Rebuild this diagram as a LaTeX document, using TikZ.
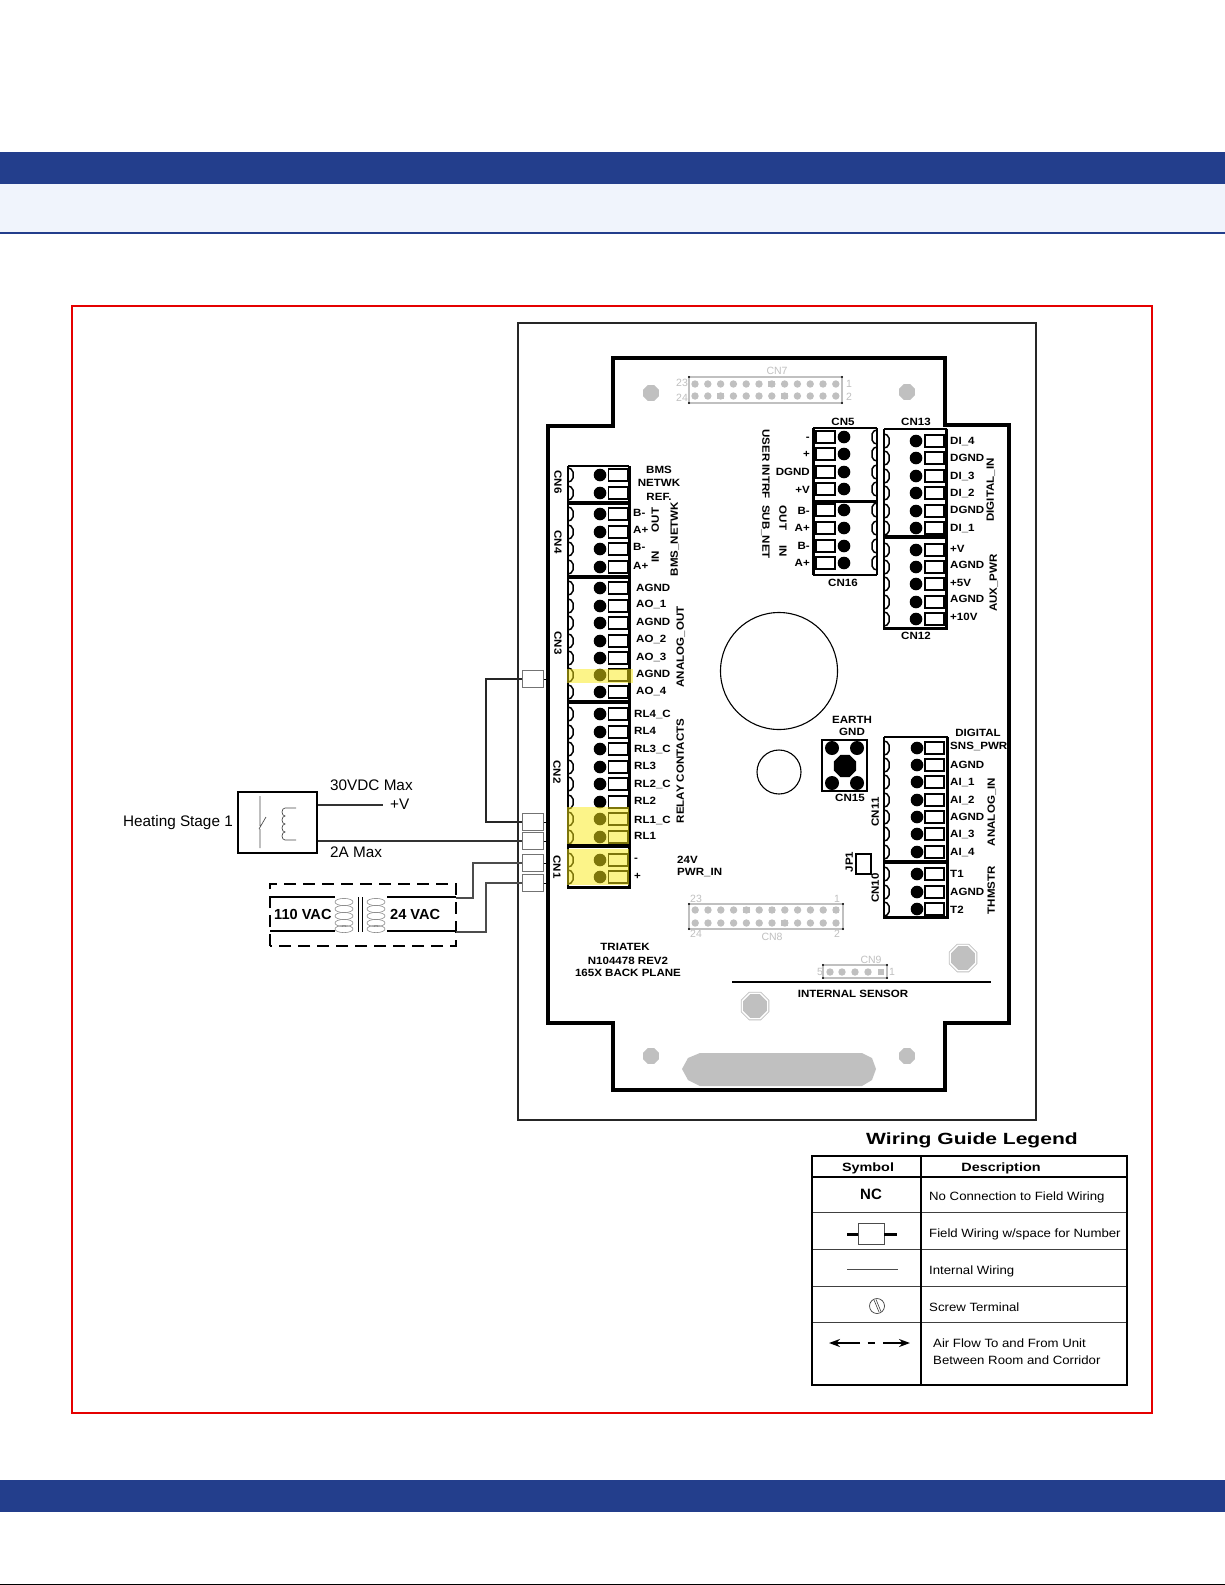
\documentclass[tikz,border=0pt]{standalone}
\usepackage{fontspec}
\usetikzlibrary{arrows.meta}
\setmainfont{Liberation Sans}
\newfontfamily\bdx[FakeStretch=1.1]{Liberation Sans}
\newfontfamily\ttlx[FakeStretch=1.3]{Liberation Sans}
\newfontfamily\lgx[FakeStretch=1.1]{Liberation Sans}
\newfontfamily\hdx[FakeStretch=1.2]{Liberation Sans}
\definecolor{bandblue}{HTML}{233E8C}
\definecolor{bandpale}{HTML}{F0F4FC}
\definecolor{pcbgray}{HTML}{C0C0C0}
\definecolor{hiyel}{RGB}{250,235,20}
\newcommand\lbf{\fontsize{10.5}{12}\selectfont\bdx\bfseries}
\newcommand\scalL[2]{\draw[scl] (#1,#2-7)--(#1+3,#2-6)--(#1+5,#2-3)--(#1+5,#2+3)--(#1+3,#2+6)--(#1,#2+7);}
\newcommand\scalR[2]{\draw[scl] (#1,#2-7)--(#1-3,#2-6)--(#1-5,#2-3)--(#1-5,#2+3)--(#1-3,#2+6)--(#1,#2+7);}
\newcommand\termsq[2]{\draw[sqr] (#1,#2-6) rectangle (#1+19,#2+6);}
\newcommand\octa[4]{\path[#4] ({#1+#3*cos(22.5)},{#2+#3*sin(22.5)})--({#1+#3*cos(67.5)},{#2+#3*sin(67.5)})--({#1+#3*cos(112.5)},{#2+#3*sin(112.5)})--({#1+#3*cos(157.5)},{#2+#3*sin(157.5)})--({#1+#3*cos(202.5)},{#2+#3*sin(202.5)})--({#1+#3*cos(247.5)},{#2+#3*sin(247.5)})--({#1+#3*cos(292.5)},{#2+#3*sin(292.5)})--({#1+#3*cos(337.5)},{#2+#3*sin(337.5)})--cycle;}
\newcommand\mountscrew[2]{\octa{#1}{#2}{15}{draw=pcbgray,line width=.8pt,fill=white}\octa{#1}{#2}{12.8}{fill=pcbgray}}
\begin{document}
\begin{tikzpicture}[x=1pt,y=-1pt,
  scl/.style={line width=1.5pt,black,line join=round},
  sqr/.style={draw=black,line width=1.9pt,fill=white},
  lbl/.style={font=\lbf,inner sep=0pt,anchor=west,text height=7.5pt,text depth=0pt},
  lblr/.style={font=\lbf,inner sep=0pt,anchor=east,text height=7.5pt,text depth=0pt},
  lblc/.style={font=\lbf,inner sep=0pt,anchor=center,text height=7.5pt,text depth=0pt},
  lblv/.style={lblc,rotate=90},
  lblw/.style={lblc,rotate=-90},
  gtxt/.style={font=\fontsize{10.5}{12}\selectfont,text=pcbgray,inner sep=0pt},
  wtxt/.style={font=\fontsize{15.3}{17}\selectfont,inner sep=0pt},
  lgtxt/.style={font=\fontsize{12}{14}\selectfont\lgx,inner sep=0pt,anchor=west},
  fwire/.style={draw=black!55,line width=.7pt,fill=white,minimum width=21pt,minimum height=17pt,inner sep=0pt},
  wire/.style={black!85,line width=1.1pt},
  wireg/.style={black!70,line width=1.2pt},
  board/.style={black,line width=3.6pt,line join=miter},
  blk/.style={black,line width=1.6pt},
  div/.style={black,line width=3.6pt},
  hl/.style={fill=hiyel,fill opacity=.5,draw=none},
  pad/.style={fill=pcbgray,draw=none},
  frm/.style={draw=pcbgray,line width=1.2pt},
  lgl/.style={black,line width=.8pt,draw opacity=.75},
]
\useasboundingbox (0,0) rectangle (1225,1585);
\fill[white] (0,0) rectangle (1225,1585);
% page bands
\fill[bandblue] (0,152) rectangle (1225,184);
\fill[bandpale] (0,184) rectangle (1225,232);
\fill[bandblue] (0,232) rectangle (1225,234);
\fill[bandblue] (0,1480) rectangle (1225,1512);
\draw[black,line width=1pt] (0,1584) -- (1225,1584);
\draw[red!90!black,line width=1.6pt] (72,306) rectangle (1152,1413);
% outer enclosure and board outline
\draw[black!85,line width=2.6pt] (518,323) rectangle (1036,1120);
\draw[board] (548,426) -- (613,426) -- (613,358) -- (945,358) -- (945,425) -- (1009,425) -- (1009,1023) -- (945,1023) -- (945,1090) -- (613,1090) -- (613,1023) -- (548,1023) -- cycle;
% mechanical features
\draw[black,line width=1.1pt] (779,671) circle (58.5);
\draw[black,line width=1.1pt] (779,772) circle (22);
\octa{651}{393}{8.5}{pad}\octa{907}{392}{8.5}{pad}\octa{651}{1056}{8.5}{pad}\octa{907}{1056}{8.5}{pad}
\mountscrew{755}{1006}\mountscrew{963}{958}
\fill[pcbgray] (682,1069)--(688,1058)--(700,1053)--(862,1053)--(872,1058)--(876,1069)--(872,1080)--(862,1086)--(700,1086)--(688,1080)--cycle;
% CN7
\draw[frm] (689,377) rectangle (842,403);
\foreach \c in {0,...,11}{\fill[pcbgray] ({695+12.8*\c},384) circle (3.7);\fill[pcbgray] ({695+12.8*\c},396) circle (3.7);}
\fill[pcbgray] ({695+12.8*6-3.4},380.6) rectangle +(6.8,6.8);
\fill[pcbgray] ({695+12.8*2-3.4},392.6) rectangle +(6.8,6.8);
\fill[pcbgray] ({695+12.8*7-3.4},392.6) rectangle +(6.8,6.8);
\foreach \p in {(689,377),(842,377),(689,403),(842,403)}{\fill[black] \p circle (1.2);}
\node[gtxt] (cn7) at (777,371) {CN7};
\node[gtxt] (cn7a) at (682,383) {23};\node[gtxt] (cn7b) at (682,398) {24};
\node[gtxt] (cn7c) at (849,384) {1};\node[gtxt] (cn7d) at (849,397) {2};
% CN8
\draw[frm] (689,904) rectangle (843,929);
\foreach \c in {0,...,11}{\fill[pcbgray] ({836-12.8*\c},910) circle (3.7);\fill[pcbgray] ({836-12.8*\c},923) circle (3.7);}
\fill[pcbgray] ({836-3.4},906.6) rectangle +(6.8,6.8);
\fill[pcbgray] ({836-12.8*5-3.4},906.6) rectangle +(6.8,6.8);
\fill[pcbgray] ({836-12.8*7-3.4},906.6) rectangle +(6.8,6.8);
\fill[pcbgray] ({836-12.8*4-3.4},919.6) rectangle +(6.8,6.8);
\foreach \p in {(689,904),(843,904),(689,929),(843,929)}{\fill[black] \p circle (1.2);}
\node[gtxt] (cn8) at (772,937) {CN8};
\node[gtxt] (cn8a) at (696,899) {23};\node[gtxt] (cn8b) at (696,934) {24};
\node[gtxt] (cn8c) at (837,899) {1};\node[gtxt] (cn8d) at (837,934) {2};
% CN9
\draw[frm] (823,965) rectangle (887,978);
\foreach \x in {830,842,855,868}{\fill[pcbgray] (\x,972) circle (3.7);}
\fill[pcbgray] (877.6,968.6) rectangle +(6.8,6.8);
\foreach \p in {(823,965),(887,965),(823,978),(887,978)}{\fill[black] \p circle (1.2);}
\node[gtxt] (cn9) at (871,960) {CN9};
\node[gtxt] (cn9a) at (820,972) {5};\node[gtxt] (cn9b) at (892,972) {1};
\draw[black,line width=1.8pt] (732,982) -- (991,982);
\node[lblc] (isens) at (853,994) {INTERNAL SENSOR};
% left terminal column
\draw[blk] (568,466) -- (629,466);
\draw[blk] (568,466) -- (568,887);
\draw[black,line width=2.6pt] (629.5,466) -- (629.5,887);
\draw[black,line width=3pt] (567,887) -- (631,887);
\foreach \y in {503,577,702,846}{\draw[div] (567,\y) -- (631,\y);}
\foreach \y in {475,493,514,532,549,567,588,606,623,641,658,675,692,714,732,749,767,784,802,819,837,860,877}{
  \scalL{568}{\y}
  \fill[black] (600,\y) circle (6.3);
  \termsq{608.5}{\y}
}
% right terminal column CN13/CN12
\draw[blk] (884,429) -- (947,429) (884,429) -- (884,628);
\draw[black,line width=2.6pt] (946.5,429) -- (946.5,628);
\draw[black,line width=3pt] (883,628) -- (948,628);
\draw[div] (883,537) -- (948,537);
\foreach \y in {441,458,476,493,511,528,550,567,584,602,619}{
  \scalL{884}{\y}
  \fill[black] (916,\y) circle (6.3);
  \termsq{925}{\y}
}
% CN5/CN16
\draw[black,line width=2.6pt] (813.5,428) -- (813.5,575);
\draw[black,line width=2.2pt] (813,428) -- (877,428);
\draw[black,line width=2.2pt] (813,575) -- (877,575);
\draw[blk] (877,428) -- (877,575);
\draw[black,line width=3pt] (813,501) -- (877,501);
\foreach \y in {437,454,472,489,510,528,546,563}{
  \scalR{877}{\y}
  \fill[black] (844,\y) circle (6.3);
  \termsq{816}{\y}
}
% CN11/CN10
\draw[blk] (884,737) -- (948,737) (884,737) -- (884,917);
\draw[black,line width=2.6pt] (947.5,737) -- (947.5,917);
\draw[black,line width=3pt] (883,917) -- (949,917);
\draw[div] (883,862) -- (949,862);
\foreach \y in {748,765,782,800,817,834,852,874,892,909}{
  \scalL{884}{\y}
  \fill[black] (917,\y) circle (6.3);
  \termsq{925}{\y}
}
% CN15 and JP1
\draw[black,line width=2.4pt] (822,740) rectangle (867,791);
\foreach \p in {(832,748),(857,748),(832,783),(857,783)}{\fill[black] \p circle (7);}
\octa{845}{766}{12}{fill=black}
\draw[black,line width=1.8pt] (856,854) rectangle (871,874);
% highlights
\fill[hl] (567,669) rectangle (633,683);
\fill[hl] (567,807) rectangle (628.5,844);
\fill[hl] (567,849) rectangle (628.5,885);
% connector captions
\node[lblw] (cn6) at (558,482) {CN6};
\node[lblw] (cn4) at (558,542) {CN4};
\node[lblw] (cn3) at (558,643) {CN3};
\node[lblw] (cn2) at (557,772) {CN2};
\node[lblw] (cn1) at (557,867) {CN1};
\node[lblc] (cn5) at (843,422) {CN5};
\node[lblc] (cn13) at (916,422) {CN13};
\node[lblc] (cn16) at (843,583) {CN16};
\node[lblc] (cn12) at (916,636) {CN12};
\node[lblc] (cn15) at (850,798) {CN15};
\node[lblv] (cn11) at (875,812) {CN11};
\node[lblv] (cn10) at (875,888) {CN10};
\node[lblv] (jp1) at (849,862) {JP1};
% left labels
\node[lblc] (bms1) at (659,470) {BMS};
\node[lblc] (bms2) at (659,483) {NETWK};
\node[lblc] (bms3) at (659,497) {REF.};
\foreach \y/\t [count=\n] in {513/B-,530/A+,547/B-,566/A+}{\node[lbl] (ln\n) at (633,\y) {\t};}
\foreach \y/\t [count=\n] in {588/AGND,604/AO\_1,622/AGND,639/AO\_2,657/AO\_3,674/AGND,691/AO\_4}{\node[lbl] (lo\n) at (636,\y) {\t};}
\foreach \y/\t [count=\n] in {714/RL4\_C,731/RL4,749/RL3\_C,766/RL3,784/RL2\_C,801/RL2,820/RL1\_C,836/RL1,858/-,876/+}{\node[lbl] (lr\n) at (634,\y) {\t};}
\node[lblv] (out1) at (655,520) {OUT};
\node[lblv] (in1) at (655,557) {IN};
\node[lblv] (bmsn) at (674,539) {BMS\_NETWK};
\node[lblv] (aout) at (680,647) {ANALOG\_OUT};
\node[lblv] (relc) at (680,771) {RELAY CONTACTS};
\node[lbl] (p24a) at (677,860) {24V};
\node[lbl] (p24b) at (677,872) {PWR\_IN};
\node[lblc] (tri1) at (625,947) {TRIATEK};
\node[lblc] (tri2) at (628,961) {N104478 REV2};
\node[lblc] (tri3) at (628,973) {165X BACK PLANE};
% CN5/CN16 labels
\foreach \y/\t [count=\n] in {437/-,454/+,472/DGND,490/+V,511/B-,528/A+,546/B-,563/A+}{\node[lblr] (lu\n) at (810,\y) {\t};}
\node[lblw] (uint) at (766,464) {USER INTRF};
\node[lblw] (subn) at (766,532) {SUB\_NET};
\node[lblw] (out2) at (783,518) {OUT};
\node[lblw] (in2) at (783,551) {IN};
% right labels
\foreach \y/\t [count=\n] in {441/DI\_4,458/DGND,476/DI\_3,493/DI\_2,510/DGND,528/DI\_1,549/+V,565/AGND,583/+5V,599/AGND,617/+10V}{\node[lbl] (ld\n) at (950,\y) {\t};}
\node[lblv] (dig) at (990,490) {DIGITAL\_IN};
\node[lblv] (aux) at (993,583) {AUX\_PWR};
\node[lblc] (dg) at (978,733) {DIGITAL};
\foreach \y/\t [count=\n] in {746/SNS\_PWR,765/AGND,782/AI\_1,800/AI\_2,817/AGND,834/AI\_3,852/AI\_4,874/T1,892/AGND,910/T2}{\node[lbl] (la\n) at (950,\y) {\t};}
\node[lblv] (ain) at (991,812) {ANALOG\_IN};
\node[lblv] (thm) at (991,890) {THMSTR};
\node[lblc] (eg1) at (852,720) {EARTH};
\node[lblc] (eg2) at (852,732) {GND};
% field wiring squares
\node[fwire] (fw1) at (533,679) {};
\node[fwire] (fw2) at (533,822) {};
\node[fwire] (fw3) at (533,841) {};
\node[fwire] (fw4) at (533,863) {};
\node[fwire] (fw5) at (533,883) {};
\foreach \i in {1,...,5}{\draw[black,line width=.8pt] (fw\i.east) -- ++(4,0);}
% relay
\node[draw=black,line width=1.2pt,minimum width=79pt,minimum height=61pt,inner sep=0pt] (relay) at (277.5,822.5) {};
\draw[black!70,line width=.7pt] (260,796) -- (260,826) (259,829) -- (266,817) (260,829) -- (260,848);
\draw[black!70,line width=.7pt] (296,808) -- (285,808)
  arc[start angle=270,end angle=90,x radius=3,y radius=4]
  arc[start angle=270,end angle=90,x radius=3,y radius=4]
  arc[start angle=270,end angle=90,x radius=3,y radius=4]
  arc[start angle=270,end angle=90,x radius=3,y radius=4] -- (296,840);
\node[wtxt,anchor=east] (heat) at (233,822.5) {Heating Stage 1};
\node[wtxt,anchor=west] (maxv) at (330,785) {30VDC Max};
\node[wtxt,anchor=west] (plusv) at (390,804) {+V};
\node[wtxt,anchor=west] (maxa) at (330,852) {2A Max};
\coordinate (vend) at (383,805);
\draw[black!80,line width=1.4pt] (relay.east |- vend) -- (vend);
\draw[black!80,line width=1.4pt] (relay.east |- fw3.west) -- (fw3.west);
\draw[wire] (fw1.west) -- (486,679) |- (fw2.west);
% transformer
\draw[black,line width=1.1pt,dash pattern=on 12pt off 7pt] (270,946) -- (270,884) -- (456,884) -- (456,946) -- cycle;
\draw[black,line width=2.8pt] (270,897) -- (335,897) (387,897) -- (456,897);
\draw[black,line width=2.8pt] (270,931) -- (335,931) (387,931) -- (456,931);
\draw[black,line width=1pt] (358,897) -- (358,932) (362,897) -- (362,932);
\foreach \y in {902,909,916,923,929}{
  \draw[black!45,line width=.6pt] (344,\y) ellipse (9 and 3.6);
  \draw[black!45,line width=.6pt] (376,\y) ellipse (9 and 3.6);
}
\node[font=\fontsize{14.6}{16}\selectfont\bfseries,inner sep=0pt,anchor=west] (v110) at (274,914) {110 VAC};
\node[font=\fontsize{14.6}{16}\selectfont\bfseries,inner sep=0pt,anchor=west] (v24) at (390,914) {24 VAC};
\coordinate (tt) at (456,898);
\coordinate (tb) at (456,932);
\draw[wireg] (tt) -- (473,898) |- (fw4.west);
\draw[wireg] (tb) -- (486,932) |- (fw5.west);
% legend
\node[font=\fontsize{16.2}{18}\selectfont\ttlx\bfseries,inner sep=0pt] (ltitle) at (972,1140) {Wiring Guide Legend};
\draw[black,line width=2.6pt] (812,1156) rectangle (1127,1385);
\draw[black,line width=1.2pt] (921,1156) -- (921,1385);
\draw[black,line width=1.2pt] (812,1177) -- (1127,1177);
\foreach \y in {1212,1249,1286,1322}{\draw[lgl] (812,\y) -- (1127,\y);}
\node[font=\fontsize{12}{14}\selectfont\hdx\bfseries,inner sep=0pt] (lsym) at (868,1168) {Symbol};
\node[font=\fontsize{12}{14}\selectfont\hdx\bfseries,inner sep=0pt] (ldes) at (1001,1168) {Description};
\node[font=\fontsize{15}{17}\selectfont\bfseries,inner sep=0pt] (lnc) at (871,1194) {NC};
\node[lgtxt] (l1) at (929,1197) {No Connection to Field Wiring};
\node[lgtxt] (l2) at (929,1234) {Field Wiring w/space for Number};
\node[lgtxt] (l3) at (929,1271) {Internal Wiring};
\node[lgtxt] (l4) at (929,1307) {Screw Terminal};
\node[lgtxt] (l5) at (933,1343) {Air Flow To and From Unit};
\node[lgtxt] (l6) at (933,1360) {Between Room and Corridor};
\node[draw=black!70,line width=.8pt,fill=white,minimum width=26pt,minimum height=21pt,inner sep=0pt] (lsq) at (871,1234) {};
\coordinate (lsql) at (847,1234);
\coordinate (lsqr) at (897,1234);
\draw[black,line width=3pt] (lsql) -- (lsq.west) (lsq.east) -- (lsqr);
\draw[black!70,line width=.7pt] (847,1269) -- (898,1269);
\draw[black!75,line width=.7pt] (877,1306) circle (7.5);
\draw[black!75,line width=.6pt] (874,1300) -- (879,1312) (876,1299.5) -- (881,1311.5);
\draw[black,line width=2.6pt,-{Stealth[length=11pt,width=8pt]}] (860,1343) -- (829,1343);
\draw[black,line width=2.8pt] (867.5,1343) -- (875,1343);
\draw[black,line width=2.6pt,-{Stealth[length=11pt,width=8pt]}] (883,1343) -- (910,1343);
\end{tikzpicture}
\end{document}
